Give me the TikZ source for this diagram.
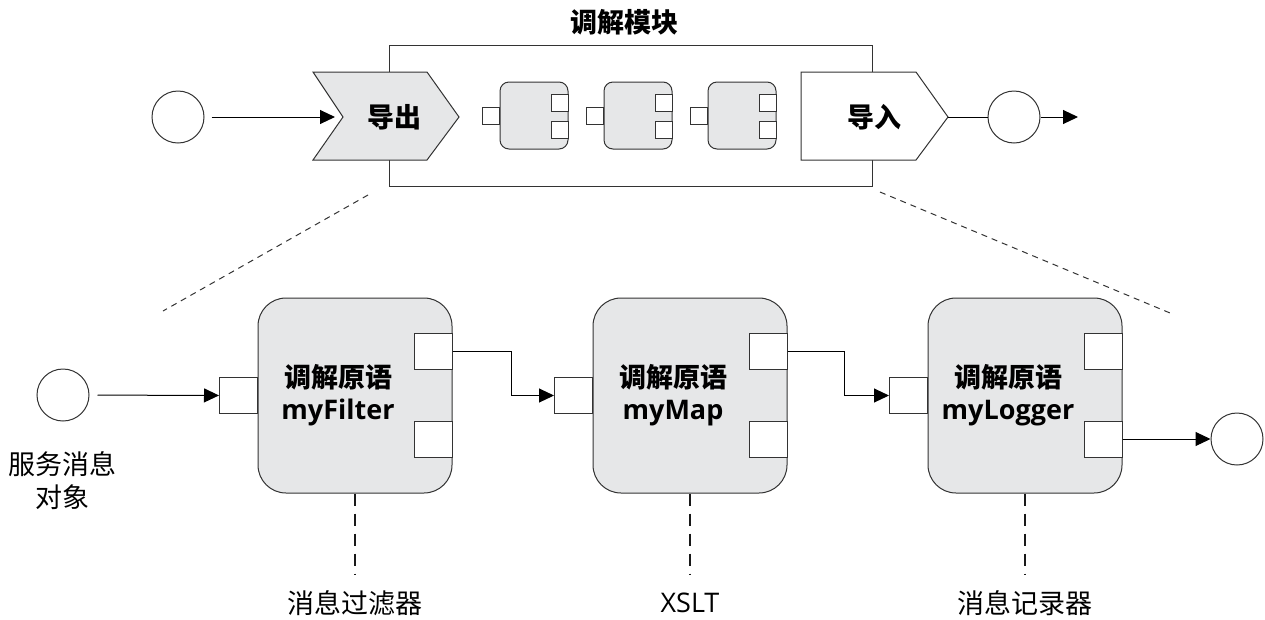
\documentclass[tikz,border=0pt]{standalone}
\usepackage{fontspec}
\setmainfont{Open Sans}
\newfontfamily\cjk{Noto Sans CJK SC}
\usetikzlibrary{arrows.meta}
\definecolor{boxgray}{HTML}{E6E7E8}
\definecolor{edgegray}{HTML}{333333}

\begin{document}
\begin{tikzpicture}[x=1pt, y=-1pt,
  bigbox/.style={draw=edgegray, fill=boxgray, line width=1pt, rounded corners=28pt, minimum width=194pt, minimum height=195pt},
  smallbox/.style={draw=edgegray, fill=boxgray, line width=1pt, rounded corners=9pt, minimum width=68pt, minimum height=67pt},
  bigport/.style={draw=edgegray, fill=white, line width=1pt, minimum width=38pt, minimum height=36pt, inner sep=0pt},
  smallport/.style={draw=edgegray, fill=white, line width=1pt, minimum size=17pt, inner sep=0pt},
  term/.style={circle, draw=edgegray, line width=1pt, minimum size=52pt, inner sep=0pt},
  flow/.style={draw=black, line width=1pt, -{Triangle[length=15pt, width=14pt]}},
  wire/.style={draw=black, line width=1pt},
  zoomline/.style={draw=black!80, line width=1pt, dash pattern=on 6pt off 5pt},
  implline/.style={draw=black!90, line width=2.6pt, dash pattern=on 12pt off 8pt},
  boldcjk/.style={font=\fontsize{27}{32}\selectfont\bfseries\cjk},
  primtext/.style={font=\fontsize{27}{32}\selectfont\bfseries, align=center},
  plaintext/.style={font=\fontsize{27}{33}\selectfont\cjk, align=center}]
\useasboundingbox (0,0) rectangle (1265,619);

\node[boldcjk] (title) at (624,22) {调解模块};
\node[draw=edgegray, line width=1pt, minimum width=483pt, minimum height=141pt] (module) at (630.5,115.5) {};
\draw[draw=edgegray, fill=boxgray, line width=1pt] (313,72) -- (427,72) -- (459,117) -- (427,160) -- (313,160) -- (343,117) -- cycle;
\draw[draw=edgegray, fill=white, line width=1pt] (801,72) -- (916,72) -- (948,117) -- (916,160) -- (801,160) -- cycle;
\node[boldcjk] (export) at (394,117) {导出};
\node[boldcjk] (import) at (874,117) {导入};
\coordinate (expNotch) at (343,117);
\coordinate (impTip) at (948,117);

\node[smallbox] (m1) at (534,115.5) {};
\node[smallport] (m1in) at ([xshift=-8.5pt]m1.west) {};
\node[smallport] (m1o1) at ([shift={(-8.5,-13)}]m1.east) {};
\node[smallport] (m1o2) at ([shift={(-8.5,14.5)}]m1.east) {};
\node[smallbox] (m2) at (638,115.5) {};
\node[smallport] (m2in) at ([xshift=-8.5pt]m2.west) {};
\node[smallport] (m2o1) at ([shift={(-8.5,-13)}]m2.east) {};
\node[smallport] (m2o2) at ([shift={(-8.5,14.5)}]m2.east) {};
\node[smallbox] (m3) at (742,115.5) {};
\node[smallport] (m3in) at ([xshift=-8.5pt]m3.west) {};
\node[smallport] (m3o1) at ([shift={(-8.5,-13)}]m3.east) {};
\node[smallport] (m3o2) at ([shift={(-8.5,14.5)}]m3.east) {};

\node[term] (in1) at (178,117) {};
\node[term] (out1) at (1014,117) {};
\coordinate (end1) at (1078,117);
\draw[flow, shorten <=7pt, shorten >=8pt] (in1) -- (expNotch);
\draw[wire] (impTip) -- (out1);
\draw[flow] (out1) -- (end1);

\coordinate (zl1) at (368,195);
\coordinate (zl2) at (163,311);
\coordinate (zr1) at (880,192);
\coordinate (zr2) at (1170,313);
\draw[zoomline] (zl1) -- (zl2);
\draw[zoomline] (zr1) -- (zr2);

\node[bigbox] (filter) at (355,395.5) {};
\node[bigport] (filterin) at ([xshift=-19pt]filter.west) {};
\node[bigport] (filtero1) at ([shift={(-19.5,-44.5)}]filter.east) {};
\node[bigport] (filtero2) at ([shift={(-19.5,43.5)}]filter.east) {};
\node[primtext] (filtert) at ([xshift=-17pt]filter.center) {{\cjk 调解原语}\\myFilter};
\node[bigbox] (map) at (690,395.5) {};
\node[bigport] (mapin) at ([xshift=-19pt]map.west) {};
\node[bigport] (mapo1) at ([shift={(-19.5,-44.5)}]map.east) {};
\node[bigport] (mapo2) at ([shift={(-19.5,43.5)}]map.east) {};
\node[primtext] (mapt) at ([xshift=-17pt]map.center) {{\cjk 调解原语}\\myMap};
\node[bigbox] (logger) at (1025,395.5) {};
\node[bigport] (loggerin) at ([xshift=-19pt]logger.west) {};
\node[bigport] (loggero1) at ([shift={(-19.5,-44.5)}]logger.east) {};
\node[bigport] (loggero2) at ([shift={(-19.5,43.5)}]logger.east) {};
\node[primtext] (loggert) at ([xshift=-17pt]logger.center) {{\cjk 调解原语}\\myLogger};

\node[term] (in2) at (63,395) {};
\node[plaintext] (smo) at (63,481) {服务消息\\对象};
\node[term] (out2) at (1237,439) {};
\draw[flow, shorten <=8pt] (in2) -- (filterin);
\draw[flow] (filtero1.east) -- ++(59,0) |- (mapin.west);
\draw[flow] (mapo1.east) -- ++(57,0) |- (loggerin.west);
\draw[flow] (loggero2.east) -- (out2);

\node[plaintext] (filterlab) at (355,603) {消息过滤器};
\node[font=\fontsize{27}{33}\selectfont] (maplab) at (690,603) {XSLT};
\node[plaintext] (loggerlab) at (1025,603) {消息记录器};
\coordinate (filterd) at (355,575);
\coordinate (mapd) at (690,575);
\coordinate (loggerd) at (1025,575);
\draw[implline] (filter.south) -- (filterd);
\draw[implline] (map.south) -- (mapd);
\draw[implline] (logger.south) -- (loggerd);
\end{tikzpicture}
\end{document}
